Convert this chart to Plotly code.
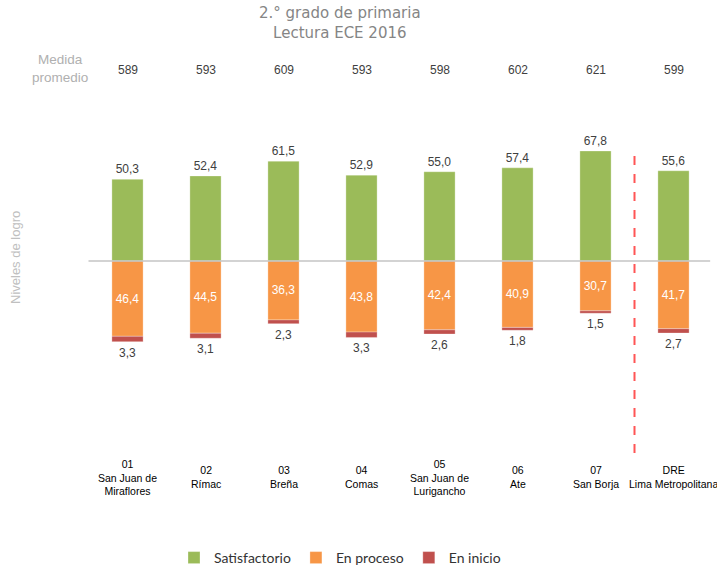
import plotly.graph_objects as go

categories = ["01<br>San Juan de<br>Miraflores", "02<br>Rímac", "03<br>Breña", "04<br>Comas",
              "05<br>San Juan de<br>Lurigancho", "06<br>Ate", "07<br>San Borja", "DRE<br>Lima Metropolitana"]
medida_promedio = [589, 593, 609, 593, 598, 602, 621, 599]
satisfactorio = [50.3, 52.4, 61.5, 52.9, 55.0, 57.4, 67.8, 55.6]
en_proceso = [46.4, 44.5, 36.3, 43.8, 42.4, 40.9, 30.7, 41.7]
en_inicio = [3.3, 3.1, 2.3, 3.3, 2.6, 1.8, 1.5, 2.7]

GREEN = "#9bbb59"
ORANGE = "#f79646"
RED = "#c0504d"
LABEL = "#404040"
FONT = "Liberation Sans, Arial, sans-serif"

xs = list(range(len(categories)))

def fmt(v):
    return f"{v:.1f}".replace(".", ",")

fig = go.Figure()
fig.add_trace(go.Bar(
    x=xs, y=satisfactorio, name="Satisfactorio", width=0.4,
    marker=dict(color=GREEN, line=dict(color="rgba(255,255,255,0.6)", width=0.5)),
    text=[fmt(v) for v in satisfactorio], textposition="outside",
    textfont=dict(color=LABEL, size=12, family=FONT), cliponaxis=False,
))
fig.add_trace(go.Bar(
    x=xs, y=[-v for v in en_proceso], name="En proceso", width=0.4,
    marker=dict(color=ORANGE, line=dict(color="rgba(255,255,255,0.6)", width=0.5)),
    text=[fmt(v) for v in en_proceso], textposition="inside", insidetextanchor="middle",
    textfont=dict(color="white", size=12, family=FONT), textangle=0,
))
fig.add_trace(go.Bar(
    x=xs, y=[-v for v in en_inicio], name="En inicio", width=0.4,
    marker=dict(color=RED, line=dict(color="rgba(255,255,255,0.6)", width=0.5)),
    textposition="none",
))

ann = []
# labels under the red segments
for i, (p, r) in enumerate(zip(en_proceso, en_inicio)):
    ann.append(dict(x=i, y=-(p + r), xref="x", yref="y", text=fmt(r), showarrow=False,
                    xanchor="center", yanchor="top", yshift=-2,
                    font=dict(color=LABEL, size=12, family=FONT)))
for i, (c, m) in enumerate(zip(categories, medida_promedio)):
    ann.append(dict(x=i, y=1 - 70 / 567, yref="paper", xref="x", text=str(m), showarrow=False,
                    font=dict(color=LABEL, size=12, family=FONT), xanchor="center", yanchor="middle"))
    ann.append(dict(x=i, y=1 - 477 / 567, yref="paper", xref="x", text=c, showarrow=False,
                    font=dict(color="black", size=10.5, family=FONT), xanchor="center", yanchor="middle"))
ann.append(dict(x=60 / 717, y=1 - 68 / 567, xref="paper", yref="paper", text="Medida<br>promedio",
                showarrow=False, xanchor="center", yanchor="middle",
                font=dict(color="#b0b0b0", size=13.5, family=FONT)))
ann.append(dict(x=15 / 717, y=1 - 258 / 567, xref="paper", yref="paper", text="Niveles de logro",
                showarrow=False, textangle=-90, xanchor="center", yanchor="middle",
                font=dict(color="#c0c0c0", size=13, family=FONT)))
ann.append(dict(x=340 / 717, y=1 - 23 / 567, xref="paper", yref="paper",
                text="2.° grado de primaria<br>Lectura ECE 2016",
                showarrow=False, xanchor="center", yanchor="middle",
                font=dict(color="#858585", size=15, family="DejaVu Sans")))

fig.update_layout(
    width=717, height=567,
    margin=dict(l=0, r=0, t=0, b=0, autoexpand=False),
    paper_bgcolor="white", plot_bgcolor="white",
    barmode="relative", separators=",.",
    showlegend=True,
    legend=dict(orientation="h", x=340 / 717, xanchor="center", y=1 - 558 / 567, yanchor="middle",
                font=dict(size=14, color="#333333", family="Lato, Open Sans, sans-serif"),
                itemwidth=30, traceorder="normal"),
    xaxis=dict(range=[-127.5 / 78, -127.5 / 78 + 717 / 78], visible=False, fixedrange=True),
    yaxis=dict(range=[-306 / 1.623, 261 / 1.623], visible=False),
    annotations=ann,
    shapes=[
        dict(type="line", xref="x", yref="y", x0=-0.5, x1=7.47, y0=0, y1=0,
             line=dict(color="#c4c4c4", width=1.5), layer="above"),
        dict(type="line", xref="x", yref="paper", x0=6.5, x1=6.5, y0=1 - 453 / 567, y1=1 - 150 / 567,
             line=dict(color="#ff5555", width=2, dash="dash"), layer="above"),
    ],
)

fig.write_html("out.html", config={"displayModeBar": False},
               post_script="document.body.style.margin='0';document.body.style.padding='0';"
                           "document.body.style.overflow='hidden';")
